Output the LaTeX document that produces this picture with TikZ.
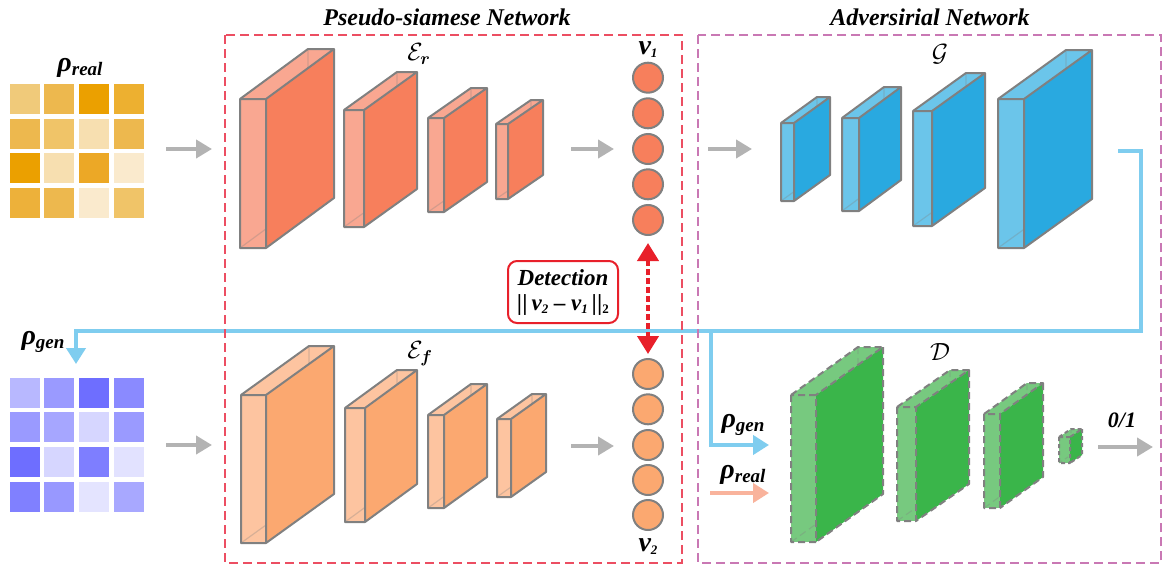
\documentclass[tikz,border=0pt]{standalone}
\usepackage{amsmath}
\usepackage{fontspec}
\setmainfont{Liberation Serif}
\usetikzlibrary{arrows.meta}
\definecolor{edgegray}{HTML}{808080}
\definecolor{erlight}{HTML}{F9A791}
\definecolor{erdark}{HTML}{F77F5C}
\definecolor{eflight}{HTML}{FDC4A0}
\definecolor{efdark}{HTML}{FBA870}
\definecolor{glight}{HTML}{6BC5EA}
\definecolor{gdark}{HTML}{29A9E0}
\definecolor{dlight}{HTML}{77C97F}
\definecolor{ddark}{HTML}{3AB54A}
\definecolor{linkblue}{HTML}{7FCDEF}
\definecolor{arrgray}{HTML}{B3B3B3}
\definecolor{salmon}{HTML}{F9B39C}
\definecolor{boxred}{HTML}{EC4E62}
\definecolor{boxpurple}{HTML}{C978B4}
\definecolor{detred}{HTML}{E8202A}
\newcommand\blk[9]{%
  \fill[#7] (#1,#2) rectangle ({#1+#3},{#2+#4});
  \fill[#7] (#1,#2) -- ({#1+#3},#2) -- ({#1+#3+#5},{#2+(#6)}) -- ({#1+#5},{#2+(#6)}) -- cycle;
  \draw[#9, edgegray, line width=1.2pt, opacity=0.3] ({#1+#5},{#2+(#6)}) -- ({#1+#5},{#2+#4+(#6)}) -- ({#1+#5+#3},{#2+#4+(#6)})
     (#1,{#2+#4}) -- ({#1+#5},{#2+#4+(#6)});
  \fill[#8] ({#1+#3},#2) -- ({#1+#3+#5},{#2+(#6)}) -- ({#1+#3+#5},{#2+#4+(#6)}) -- ({#1+#3},{#2+#4}) -- cycle;
  \draw[#9, edgegray, line width=2pt, line join=round]
     (#1,#2) rectangle ({#1+#3},{#2+#4})
     (#1,#2) -- ({#1+#5},{#2+(#6)}) -- ({#1+#3+#5},{#2+(#6)}) -- ({#1+#3},#2)
     ({#1+#3+#5},{#2+(#6)}) -- ({#1+#3+#5},{#2+#4+(#6)}) -- ({#1+#3},{#2+#4});
}
\tikzset{
  garrow/.style={draw=arrgray, line width=4.5pt, -{Triangle[length=16pt,width=18pt]}},
  barrow/.style={draw=linkblue, line width=4pt},
  title/.style={font=\fontsize{24}{26}\selectfont\bfseries\itshape, inner sep=0pt},
  lbl/.style={inner sep=0pt},
  circ/.style={circle, draw=edgegray, line width=2pt, minimum size=30pt, inner sep=0pt},
}
\newcommand\rholab[1]{{\fontsize{28}{30}\selectfont\bfseries\itshape ρ\raisebox{-4pt}{\fontsize{19}{20}\selectfont #1}}}
\newcommand\vlab[1]{{\fontsize{28}{30}\selectfont\bfseries\itshape v\raisebox{-3pt}{\fontsize{13}{14}\selectfont #1}}}
\newcommand\sbx[1]{\raisebox{-3pt}{\fontsize{13}{13}\selectfont #1}}
\begin{document}
\begin{tikzpicture}[x=1pt,y=-1pt]
\useasboundingbox (0,0) rectangle (1162,565);
\fill[white] (0,0) rectangle (1162,565);

% matrices
\foreach \c/\r/\clr in {0/0/F0CA7A,1/0/EDB84E,2/0/EBA000,3/0/EDB030,
  0/1/EDB84E,1/1/F0C468,2/1/F7DFB0,3/1/EDB84E,
  0/2/EBA000,1/2/F7DFB0,2/2/ECA826,3/2/FAEACD,
  0/3/EDB13A,1/3/EDB84E,2/3/FAEACD,3/3/F0C468}{
  \definecolor{cellc}{HTML}{\clr}
  \fill[cellc] ({9.5+34.8*\c},{84+34.6*\r}) rectangle ++(30,30);
}
\foreach \c/\r/\clr in {0/0/B8B8FF,1/0/9A9AFF,2/0/6E6EFF,3/0/8A8AFF,
  0/1/9A9AFF,1/1/A6A6FF,2/1/D6D6FF,3/1/9A9AFF,
  0/2/6E6EFF,1/2/D6D6FF,2/2/7E7EFF,3/2/E2E2FF,
  0/3/8080FF,1/3/9898FF,2/3/E4E4FF,3/3/A8A8FF}{
  \definecolor{cellc}{HTML}{\clr}
  \fill[cellc] ({9.5+34.8*\c},{377.7+34.7*\r}) rectangle ++(30,30);
}

% blue connector (drawn first)
\coordinate (bstart) at (1118,151);
\coordinate (bcorner) at (1141,331);
\coordinate (bleft) at (76,331);
\coordinate (bgenin) at (76,364);
\coordinate (bbranch) at (711,331);
\coordinate (bgenD) at (769,445);
\draw[barrow, line join=miter] (bstart) -| (bcorner) -- (bleft) -- (bgenin)
  [-{Triangle[length=16pt,width=19pt]}];
\draw[barrow, -{Triangle[length=16pt,width=19pt]}] (bbranch) |- (bgenD);

% dashed group boxes
\draw[boxred, line width=2.5pt, dash pattern=on 9pt off 5pt] (225,35) rectangle (682,563);
\draw[boxpurple, line width=2.5pt, dash pattern=on 9pt off 5pt] (698,35) rectangle (1161,563);

% titles
\node[title] (t1) at (447,17) {Pseudo-siamese Network};
\node[title] (t2) at (930,17) {Adversirial Network};

% encoder E_r
\blk{240}{99}{26}{149}{68}{-50}{erlight}{erdark}{solid}
\blk{344}{110}{20}{117}{53}{-38}{erlight}{erdark}{solid}
\blk{428}{118}{16}{94}{43}{-30}{erlight}{erdark}{solid}
\blk{496}{124}{12}{75}{35}{-24}{erlight}{erdark}{solid}
% encoder E_f
\blk{241}{395}{25}{148}{68}{-49}{eflight}{efdark}{solid}
\blk{345}{408}{20}{114}{52}{-38}{eflight}{efdark}{solid}
\blk{428}{415}{16}{93}{43}{-31}{eflight}{efdark}{solid}
\blk{497}{419}{14}{78}{35}{-25}{eflight}{efdark}{solid}
% generator G
\blk{781}{123}{13}{78}{36}{-26}{glight}{gdark}{solid}
\blk{842}{118}{17}{93}{42}{-31}{glight}{gdark}{solid}
\blk{913}{111}{19}{115}{53}{-38}{glight}{gdark}{solid}
\blk{998}{99}{26}{149}{68}{-49}{glight}{gdark}{solid}
% discriminator D
\blk{791}{395}{25}{147}{67}{-48}{dlight}{ddark}{dash pattern=on 7pt off 4pt}
\blk{897}{407}{19}{114}{53}{-37}{dlight}{ddark}{dash pattern=on 7pt off 4pt}
\blk{984}{414}{16}{94}{43}{-31}{dlight}{ddark}{dash pattern=on 7pt off 4pt}
\blk{1059}{437}{11}{26}{12}{-8}{dlight}{ddark}{dash pattern=on 4pt off 3pt}

% block labels
\node[lbl] (Er) at (419,54) {\fontsize{27}{28}\selectfont$\mathcal{E}_{\boldsymbol{r}}$};
\node[lbl] (Ef) at (420,354) {\fontsize{27}{28}\selectfont$\mathcal{E}_{\boldsymbol{f}}$};
\node[lbl] (Gl) at (940,54) {\fontsize{27}{28}\selectfont$\mathcal{G}$};
\node[lbl] (Dl) at (940,352) {\fontsize{27}{28}\selectfont$\mathcal{D}$};

% latent vectors
\foreach \i/\y in {1/77.7,2/113.3,3/149,4/184.3,5/220}{
  \node[circ, fill=erdark] (va\i) at (648,\y) {};
}
\foreach \i/\y in {1/374,2/409.3,3/445,4/480,5/515}{
  \node[circ, fill=efdark] (vb\i) at (648,\y) {};
}
\node[lbl] (v1) at (648,50) {\vlab{1}};
\node[lbl] (v2) at (648,547) {\vlab{2}};

% rho labels
\node[lbl] (rr) at (80,68) {\rholab{real}};
\node[lbl] (rg) at (43,342) {\rholab{gen}};
\node[lbl] (rgD) at (743,425) {\rholab{gen}};
\node[lbl] (rrD) at (743,475) {\rholab{real}};
\node[lbl] (out) at (1122,420) {\fontsize{22}{24}\selectfont\bfseries\itshape 0/1};

% gray arrows
\coordinate (a1s) at (166,149); \coordinate (a1e) at (212,149);
\coordinate (a2s) at (571,149); \coordinate (a2e) at (614,149);
\coordinate (a3s) at (708,149); \coordinate (a3e) at (752,149);
\coordinate (a4s) at (166,445); \coordinate (a4e) at (212,445);
\coordinate (a5s) at (571,446); \coordinate (a5e) at (614,446);
\coordinate (a6s) at (1098,447); \coordinate (a6e) at (1153,447);
\draw[garrow] (a1s) -- (a1e);
\draw[garrow] (a2s) -- (a2e);
\draw[garrow] (a3s) -- (a3e);
\draw[garrow] (a4s) -- (a4e);
\draw[garrow] (a5s) -- (a5e);
\draw[garrow] (a6s) -- (a6e);

% real input to D
\coordinate (srs) at (710,493); \coordinate (sre) at (769,493);
\draw[draw=salmon, line width=4pt, -{Triangle[length=16pt,width=19pt]}] (srs) -- (sre);

% detection
\node[draw=detred, line width=2pt, rounded corners=9pt, fill=white, minimum width=110pt, minimum height=62pt, align=center, inner sep=2pt,
  font=\fontsize{23}{25}\selectfont\bfseries\itshape] (det) at (563,292)
  {Detection\\
   |\kern0.5pt|\,v\sbx{2} – v\sbx{1}\,|\kern0.5pt|\sbx{\upshape 2}};
\draw[detred, line width=4pt, dash pattern=on 6pt off 3pt,
  {Triangle[length=18pt,width=21pt]}-{Triangle[length=18pt,width=21pt]},
  shorten <=7pt, shorten >=4pt] (va5.south) -- (vb1.north);
\end{tikzpicture}
\end{document}
